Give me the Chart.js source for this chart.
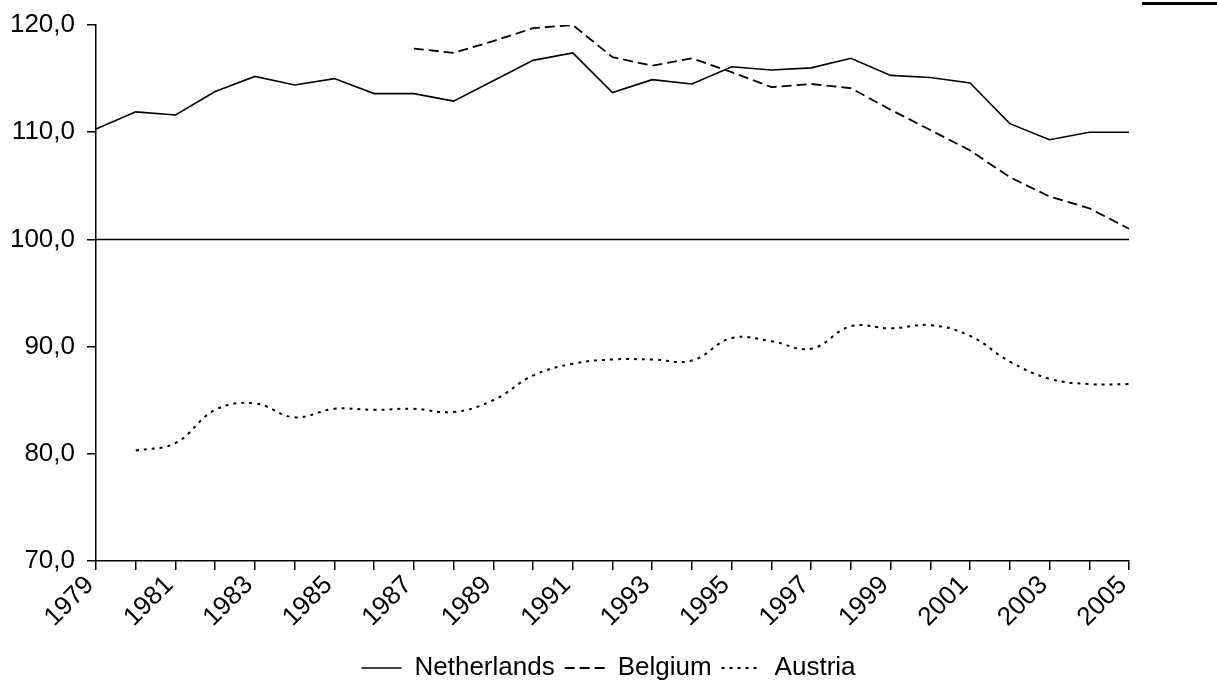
<!DOCTYPE html>
<html>
<head>
<meta charset="utf-8">
<title>Netherlands, Belgium, Austria</title>
<script src="https://cdn.jsdelivr.net/npm/chart.js@4.4.1/dist/chart.umd.min.js"></script>
<style>
  html, body { margin: 0; padding: 0; background: #fff; }
  #wrap { position: relative; width: 1217px; height: 691px; }
  /* stray black bar in the top right corner of the reference */
  #corner { position: absolute; left: 1142px; top: 2px; width: 75px; height: 3px; background: #000; }
</style>
</head>
<body>
<div id="wrap">
  <canvas id="chart" width="1217" height="691"></canvas>
  <div id="corner"></div>
</div>
<script>
  // ── Data ───────────────────────────────────────────────────────────────
  const years = ["1979", "1980", "1981", "1982", "1983", "1984", "1985", "1986", "1987",
                 "1988", "1989", "1990", "1991", "1992", "1993", "1994", "1995", "1996",
                 "1997", "1998", "1999", "2000", "2001", "2002", "2003", "2004", "2005"];

  const netherlands = [110.3, 111.9, 111.6, 113.8, 115.2, 114.4, 115.0, 113.6, 113.6,
                       112.9, 114.8, 116.7, 117.4, 113.7, 114.9, 114.5, 116.1, 115.8,
                       116.0, 116.9, 115.3, 115.1, 114.6, 110.8, 109.3, 110.0, 110.0];

  const belgium = [null, null, null, null, null, null, null, null, 117.8,
                   117.4, 118.5, 119.7, 120.0, 117.0, 116.2, 116.9, 115.6, 114.2,
                   114.5, 114.1, 112.1, 110.2, 108.3, 105.8, 104.0, 102.9, 101.0];

  const austria = [null, 80.3, 81.0, 84.1, 84.7, 83.4, 84.2, 84.1, 84.2,
                   83.9, 85.0, 87.3, 88.4, 88.8, 88.8, 88.7, 90.8, 90.5,
                   89.8, 91.9, 91.7, 92.0, 91.0, 88.6, 87.0, 86.5, 86.5];

  // reference line at 100
  const baseline = [100, 100, 100, 100, 100, 100, 100, 100, 100,
                    100, 100, 100, 100, 100, 100, 100, 100, 100,
                    100, 100, 100, 100, 100, 100, 100, 100, 100];

  const yTicks = [70, 80, 90, 100, 110, 120];

  // ── Formatter: 120 → "120,0" ────────────────────────────────────────────
  const fmt = (v) => v.toFixed(1).replace(".", ",");

  const FONT = { family: "'Liberation Sans', Arial, sans-serif", size: 26 };
  // tighter line height on the y labels so the top label doesn't push the plot down
  const YFONT = { family: FONT.family, size: 26, lineHeight: 1.0 };

  // Legend entries drawn as short line samples using each dataset's own dash
  const legendLabels = (chart) =>
    Chart.defaults.plugins.legend.labels.generateLabels(chart).map(item => {
      const ds = chart.data.datasets[item.datasetIndex];
      item.lineDash = ds.borderDash || [];
      item.lineWidth = ds.borderWidth;
      item.strokeStyle = "#000";
      item.fillStyle = "transparent";
      return item;
    });

  new Chart(document.getElementById("chart"), {
    type: "line",
    data: {
      labels: years,
      datasets: [
        {
          label: "Netherlands",
          data: netherlands,
          borderColor: "#000",
          backgroundColor: "transparent",
          borderWidth: 1.6,
          pointRadius: 0,
          tension: 0
        },
        {
          label: "Belgium",
          data: belgium,
          borderColor: "#000",
          backgroundColor: "transparent",
          borderWidth: 1.8,
          borderDash: [10, 5],
          pointRadius: 0,
          tension: 0
        },
        {
          label: "Austria",
          data: austria,
          borderColor: "#000",
          backgroundColor: "transparent",
          borderWidth: 2,
          borderDash: [3, 5],
          pointRadius: 0,
          tension: 0.4
        },
        {
          label: "",
          data: baseline,
          borderColor: "#000",
          backgroundColor: "transparent",
          borderWidth: 1.5,
          pointRadius: 0,
          tension: 0
        }
      ]
    },
    options: {
      responsive: false,
      animation: false,
      events: [],
      layout: { padding: { left: 0, right: 0, top: 24, bottom: 0 } },
      plugins: {
        tooltip: { enabled: false },
        legend: {
          position: "bottom",
          labels: {
            color: "#000",
            font: FONT,
            usePointStyle: true,
            pointStyle: "line",
            pointStyleWidth: 40,
            padding: 10,
            generateLabels: legendLabels,
            filter: (item) => item.text !== ""
          }
        }
      },
      scales: {
        x: {
          offset: false,
          afterFit: (s) => { s.height = 84; },
          grid: { drawOnChartArea: false, drawTicks: true, tickLength: 9, color: "#000", lineWidth: 1.5 },
          border: { color: "#000", width: 1.5 },
          ticks: {
            autoSkip: false,
            minRotation: 45,
            maxRotation: 45,
            color: "#000",
            font: FONT,
            padding: 0,
            labelOffset: -6,
            // label only every second year, tick mark on every year
            callback: (v, i) => (i % 2 === 0 ? years[i] : "")
          }
        },
        y: {
          min: 70,
          max: 120,
          afterFit: (s) => { s.width = 96; },
          afterBuildTicks: (s) => { s.ticks = yTicks.map(v => ({ value: v })); },
          grid: { drawOnChartArea: false, drawTicks: true, tickLength: 9, color: "#000", lineWidth: 1.5 },
          border: { color: "#000", width: 1.5 },
          ticks: {
            color: "#000",
            font: YFONT,
            padding: 12,
            callback: (v) => fmt(v)
          }
        },
        // empty right-hand box: keeps the blank strip right of the plot
        // while the legend stays centred on the full width
        yRight: {
          position: "right",
          min: 70,
          max: 120,
          afterFit: (s) => { s.width = 88; },
          grid: { display: false },
          border: { display: false },
          ticks: { display: false }
        }
      }
    }
  });
</script>
</body>
</html>
